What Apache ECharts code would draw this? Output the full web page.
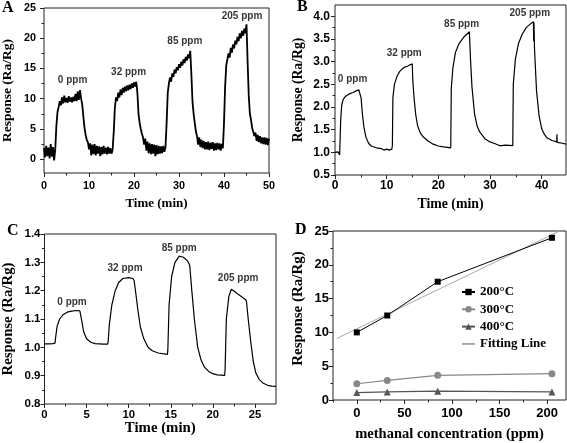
<!DOCTYPE html>
<html>
<head>
<meta charset="utf-8">
<script src="https://cdn.jsdelivr.net/npm/echarts@6/dist/echarts.min.js"></script>
<style>html,body{margin:0;padding:0;background:#fff}#c{width:567px;height:443px}</style>
</head>
<body>
<div id="c"></div>
<script>
// ---------- DATA ----------
const traceA = [
[0,1.8],[0.25,0.3],[0.5,2.2],[0.75,0.5],[1,1.9],[1.25,0.1],[1.5,2.5],[1.75,0.4],[2,2.0],[2.25,-0.2],[2.5,1.6],[2.75,5.5],
[3,7.8],[3.25,8.6],[3.5,9.6],[3.75,8.9],[4,10.2],[4.25,9.2],[4.5,10.5],[4.75,9.4],[5,10.1],[5.25,9.3],[5.5,10.4],[5.75,9.5],
[6,10.2],[6.25,9.4],[6.5,10.3],[6.75,9.6],[7,10.8],[7.25,9.6],[7.5,11.2],[7.75,9.8],[8,11.4],[8.25,10.0],[8.5,9.0],[8.75,7.0],
[9,5.2],[9.25,4.0],[9.5,3.2],[9.75,2.8],[10,1.6],[10.25,2.6],[10.5,0.6],[10.75,2.4],[11,0.8],[11.25,2.5],[11.5,0.6],[11.75,2.2],
[12,0.9],[12.25,2.1],[12.5,0.5],[12.75,2.0],[13,0.8],[13.25,2.2],[13.5,0.9],[13.75,1.9],[14,0.8],[14.25,2.0],[14.5,0.9],[14.75,1.8],
[15,0.9],[15.25,1.6],[15.5,4.5],[15.75,8.5],[16,10.2],[16.25,9.6],[16.5,11.0],[16.75,10.2],[17,11.5],[17.25,10.6],[17.5,11.8],[17.75,11.0],
[18,12.0],[18.25,11.2],[18.5,12.2],[18.75,11.4],[19,12.3],[19.25,11.6],[19.5,12.5],[19.75,11.8],[20,12.7],[20.25,12.0],[20.5,12.8],[20.75,11.0],
[21,7.5],[21.25,6.0],[21.5,5.0],[21.75,4.2],[22,3.6],[22.25,2.4],[22.5,3.4],[22.75,1.4],[23,2.9],[23.25,1.0],[23.5,2.6],[23.75,0.8],
[24,2.5],[24.25,0.9],[24.5,2.4],[24.75,0.5],[25,2.3],[25.25,0.8],[25.5,2.2],[25.75,0.9],[26,2.1],[26.25,1.0],[26.5,2.2],[26.75,1.2],
[27,2.0],[27.25,6.0],[27.5,11.0],[27.75,12.5],[28,13.5],[28.25,12.8],[28.5,14.2],[28.75,13.6],[29,14.8],[29.25,14.2],[29.5,15.2],[29.75,14.7],
[30,15.7],[30.25,15.1],[30.5,16.1],[30.75,15.5],[31,16.5],[31.25,15.9],[31.5,16.9],[31.75,16.3],[32,17.3],[32.25,16.7],[32.5,17.9],[32.75,14.0],
[33,9.5],[33.25,7.5],[33.5,6.0],[33.75,4.6],[34,3.8],[34.25,2.4],[34.5,3.6],[34.75,2.0],[35,3.2],[35.25,1.8],[35.5,3.0],[35.75,1.6],
[36,2.8],[36.25,1.6],[36.5,2.9],[36.75,1.5],[37,2.7],[37.25,1.7],[37.5,2.8],[37.75,1.4],[38,2.6],[38.25,1.5],[38.5,2.7],[38.75,1.6],
[39,2.6],[39.25,1.4],[39.5,2.5],[39.75,1.8],[40,6.0],[40.25,12.0],[40.5,15.5],[40.75,16.5],[41,17.5],[41.25,16.8],[41.5,18.4],[41.75,17.6],
[42,19.0],[42.25,18.3],[42.5,19.6],[42.75,19.0],[43,20.2],[43.25,19.5],[43.5,20.8],[43.75,20.0],[44,21.2],[44.25,20.4],[44.5,21.6],[44.75,20.8],
[45,22.3],[45.25,16.0],[45.5,10.5],[45.75,7.5],[46,6.5],[46.25,5.2],[46.5,5.0],[46.75,3.8],[47,4.4],[47.25,3.0],[47.5,4.0],[47.75,2.8],
[48,3.8],[48.25,2.6],[48.5,3.6],[48.75,2.5],[49,3.6],[49.25,2.4],[49.5,3.5],[49.75,2.3],[50,3.4]
];
const traceB = [
[0,1.0],[0.3,0.99],[0.6,1.01],[0.9,0.94],[0.97,0.96],[1.1,1.7],[1.3,2.05],[1.6,2.17],[2,2.23],[2.5,2.27],[3,2.3],[3.5,2.32],[4,2.35],[4.3,2.33],[4.6,2.38],[4.95,2.4],
[5.05,2.2],[5.3,1.85],[5.6,1.55],[6,1.33],[6.5,1.2],[7,1.14],[8,1.1],[9,1.08],[9.5,1.05],[10,1.07],[10.5,1.05],[11,1.07],[11.1,1.15],
[11.2,2.2],[11.5,2.5],[12,2.68],[12.5,2.78],[13,2.84],[13.5,2.88],[14,2.9],[14.5,2.93],[14.95,2.95],
[15.05,2.6],[15.3,2.2],[15.6,1.85],[16,1.58],[16.5,1.43],[17,1.35],[18,1.25],[19,1.18],[20,1.14],[21,1.12],[22.4,1.1],
[22.5,2.4],[22.8,2.85],[23.3,3.2],[24,3.4],[25,3.55],[26,3.66],[26.1,3.68],
[26.2,3.1],[26.5,2.45],[27,1.85],[27.5,1.58],[28,1.45],[29,1.3],[30,1.23],[31,1.19],[31.8,1.15],[32,1.19],[32.2,1.15],[33,1.16],[34.4,1.15],
[34.5,2.5],[34.9,3.05],[35.5,3.4],[36.2,3.6],[37,3.75],[38,3.85],[38.4,3.88],[38.45,3.45],[38.5,3.87],
[38.6,3.3],[39,2.35],[39.5,1.8],[40,1.52],[40.5,1.4],[41,1.32],[42,1.26],[42.9,1.23],[42.95,1.4],[43,1.22],[44,1.2],[44.7,1.18]
];
const traceC = [
[0,1.012],[0.5,1.012],[1.0,1.013],[1.25,1.015],[1.3,1.03],[1.5,1.075],[1.8,1.1],[2.2,1.115],[2.7,1.124],[3.2,1.128],[3.8,1.13],[4.2,1.129],[4.3,1.125],
[4.45,1.09],[4.65,1.055],[5.0,1.03],[5.5,1.018],[6,1.013],[7,1.011],[7.5,1.011],[7.56,1.02],
[7.7,1.08],[8,1.15],[8.4,1.2],[8.8,1.228],[9.3,1.243],[10,1.246],[10.5,1.243],[10.65,1.235],
[10.85,1.19],[11.1,1.13],[11.4,1.07],[11.8,1.03],[12.3,1.0],[12.8,0.988],[13.5,0.98],[14.6,0.975],[14.65,0.99],
[14.8,1.15],[15.1,1.25],[15.5,1.3],[16,1.322],[16.5,1.318],[17.0,1.305],[17.2,1.3],[17.22,1.31],[17.25,1.29],
[17.5,1.2],[17.8,1.1],[18.2,1.0],[18.6,0.955],[19,0.93],[19.5,0.915],[20,0.907],[20.5,0.903],[21.4,0.901],[21.45,0.92],
[21.6,1.1],[21.9,1.18],[22.2,1.205],[22.6,1.197],[23.0,1.187],[23.5,1.177],[23.9,1.168],[24.0,1.16],
[24.2,1.1],[24.5,1.02],[24.8,0.95],[25.1,0.91],[25.5,0.887],[26,0.873],[26.5,0.866],[27,0.863],[27.5,0.862]
];
const concD = [0, 32, 85, 205];
const resp200 = [10.0, 12.5, 17.5, 24.0];
const resp300 = [2.4, 2.9, 3.65, 3.9];
const resp400 = [1.1, 1.2, 1.3, 1.2];
const fitX = [-21, 213];
const fitY = [9.1, 25.0];

const labelsA = [[6.35,13.1,'0 ppm'],[18.8,14.45,'32 ppm'],[31.3,19.5,'85 ppm'],[44.0,23.7,'205 ppm']];
const labelsB = [[3.4,2.61,'0 ppm'],[13.4,3.19,'32 ppm'],[24.5,3.82,'85 ppm'],[37.7,4.06,'205 ppm']];
const labelsC = [[3.27,1.159,'0 ppm'],[9.57,1.279,'32 ppm'],[16.0,1.35,'85 ppm'],[23.0,1.244,'205 ppm']];

// tick values
const aXTicks = [0,10,20,30,40,50], aXMinor = [5,15,25,35,45];
const aYTicks = [0,5,10,15,20,25], aYMinor = [2.5,7.5,12.5,17.5,22.5];
const bXTicks = [0,10,20,30,40], bXMinor = [5,15,25,35];
const bYTicks = [0.5,1.0,1.5,2.0,2.5,3.0,3.5,4.0], bYMinor = [0.75,1.25,1.75,2.25,2.75,3.25,3.75];
const cXTicks = [0,5,10,15,20,25], cXMinor = [2.5,7.5,12.5,17.5,22.5];
const cYTicks = [0.8,0.9,1.0,1.1,1.2,1.3,1.4], cYMinor = [0.85,0.95,1.05,1.15,1.25,1.35];
const dXTicks = [0,50,100,150,200], dXMinor = [-25,25,75,125,175];
const dYTicks = [0,5,10,15,20,25], dYMinor = [2.5,7.5,12.5,17.5,22.5];

// ---------- CHART ----------
const SERIF = '"Liberation Serif", "Times New Roman", serif';
const SANS = '"Liberation Sans", Arial, sans-serif';

const grids = [
  {left:43, top:8, width:226, height:165},
  {left:335, top:5, width:231, height:170},
  {left:43, top:234, width:233, height:170},
  {left:333, top:231, width:233, height:171}
].map(g => Object.assign({show:true, borderColor:'#222', borderWidth:1, backgroundColor:'transparent'}, g));

const xAxes = [], yAxes = [];
function addAxes(gi, xc, yc) {
  const common = {type:'value', gridIndex:gi, splitLine:{show:false}, axisLine:{show:false, onZero:false}};
  xAxes.push(Object.assign({}, common, {
    position:'bottom', min:xc.min, max:xc.max,
    name:xc.name, nameLocation:'middle', nameGap:xc.nameGap,
    nameTextStyle:{fontFamily:SERIF, fontWeight:'bold', fontSize:xc.nameSize, color:'#000'},
    axisTick:{show:true, customValues:xc.ticks, length:4, lineStyle:{color:'#222'}},
    axisLabel:{show:true, customValues:xc.ticks, margin:xc.margin, fontFamily:SANS, fontWeight:'bold', fontSize:xc.labelSize, color:'#000',
      formatter: xc.fmt || (v => String(v))}
  }));
  xAxes.push(Object.assign({}, common, {
    position:'bottom', min:xc.min, max:xc.max,
    axisTick:{show:true, customValues:xc.minor, length:2.5, lineStyle:{color:'#222'}},
    axisLabel:{show:false}
  }));
  yAxes.push(Object.assign({}, common, {
    position:'left', min:yc.min, max:yc.max,
    name:yc.name, nameLocation:'middle', nameGap:yc.nameGap,
    nameTextStyle:{fontFamily:SERIF, fontWeight:'bold', fontSize:yc.nameSize, color:'#000', padding:yc.namePad || 0},
    axisTick:{show:true, customValues:yc.ticks, length:4, lineStyle:{color:'#222'}},
    axisLabel:{show:true, customValues:yc.ticks, margin:yc.margin, fontFamily:SANS, fontWeight:'bold', fontSize:yc.labelSize, color:'#000',
      formatter: yc.fmt || (v => String(v))}
  }));
  yAxes.push(Object.assign({}, common, {
    position:'left', min:yc.min, max:yc.max,
    axisTick:{show:true, customValues:yc.minor, length:2.5, lineStyle:{color:'#222'}},
    axisLabel:{show:false}
  }));
}
const f1 = v => v.toFixed(1);
addAxes(0, {min:0,max:50,ticks:aXTicks,minor:aXMinor,name:'Time (min)',nameGap:24,nameSize:13,labelSize:10.8,margin:8},
           {min:-2.3,max:25,ticks:aYTicks,minor:aYMinor,name:'Response (Ra/Rg)',nameGap:29,nameSize:13.5,labelSize:10.8,margin:8});
addAxes(1, {min:0,max:44.7,ticks:bXTicks,minor:bXMinor,name:'Time (min)',nameGap:22,nameSize:13.8,labelSize:12,margin:5},
           {min:0.5,max:4.25,ticks:bYTicks,minor:bYMinor,name:'Response (Ra/Rg)',nameGap:29.5,nameSize:13.7,labelSize:12,margin:5,fmt:f1});
addAxes(2, {min:0,max:27.5,ticks:cXTicks,minor:cXMinor,name:'Time (min)',nameGap:14.5,nameSize:14.8,labelSize:11.3,margin:5},
           {min:0.8,max:1.4,ticks:cYTicks,minor:cYMinor,name:'Response (Ra/Rg)',nameGap:28.5,nameSize:14.8,labelSize:11.5,margin:4,fmt:f1});
addAxes(3, {min:-25,max:219.8,ticks:dXTicks,minor:dXMinor,name:'methanal concentration (ppm)',nameGap:27,nameSize:14.5,labelSize:13,margin:7},
           {min:0,max:25,ticks:dYTicks,minor:dYMinor,name:'Response (Ra/Rg)',nameGap:27.5,nameSize:15,labelSize:13,margin:4,namePad:[0,0,0,14]});

function traceSeries(gi, data, w) {
  return {type:'line', xAxisIndex:gi*2, yAxisIndex:gi*2, data:data, symbol:'none',
    lineStyle:{color:'#000', width:w}, silent:true, z:3};
}
function labelSeries(gi, arr) {
  return {type:'scatter', xAxisIndex:gi*2, yAxisIndex:gi*2, symbol:'circle', symbolSize:1,
    itemStyle:{color:'rgba(0,0,0,0)'}, silent:true, z:5,
    data: arr.map(d => ({value:[d[0], d[1]], name:d[2]})),
    label:{show:true, position:'inside', formatter:p => p.name, fontFamily:SANS, fontWeight:'bold', fontSize:10, color:'#000'}};
}
const zip = (xs, ys) => xs.map((x, i) => [x, ys[i]]);

const option = {
  backgroundColor:'#fff',
  animation:false,
  grid: grids,
  xAxis: xAxes,
  yAxis: yAxes,
  legend: {
    left:461, top:285, padding:0, orient:'vertical', itemWidth:13, itemHeight:8, itemGap:3.3,
    textStyle:{fontFamily:SERIF, fontWeight:'bold', fontSize:13, color:'#000', lineHeight:14},
    data:['200°C','300°C','400°C',{name:'Fitting Line', itemStyle:{opacity:0}}]
  },
  graphic: [
    {type:'text', left:2, top:0, style:{text:'A', font:'bold 16px "Liberation Serif"', fill:'#000'}},
    {type:'text', left:297, top:-1, style:{text:'B', font:'bold 16px "Liberation Serif"', fill:'#000'}},
    {type:'text', left:7, top:223, style:{text:'C', font:'bold 16px "Liberation Serif"', fill:'#000'}},
    {type:'text', left:295, top:222, style:{text:'D', font:'bold 16px "Liberation Serif"', fill:'#000'}}
  ],
  series: [
    traceSeries(0, traceA, 1.8),
    traceSeries(1, traceB, 1.2),
    traceSeries(2, traceC, 1.2),
    labelSeries(0, labelsA),
    labelSeries(1, labelsB),
    labelSeries(2, labelsC),
    {name:'Fitting Line', type:'line', xAxisIndex:6, yAxisIndex:6, data:zip(fitX, fitY), symbol:'none',
      lineStyle:{color:'#aaa', width:1}, itemStyle:{color:'#aaa'}, z:2},
    {name:'200°C', type:'line', xAxisIndex:6, yAxisIndex:6, data:zip(concD, resp200), symbol:'rect', symbolSize:6,
      lineStyle:{color:'#000', width:1}, itemStyle:{color:'#000'}, z:4},
    {name:'300°C', type:'line', xAxisIndex:6, yAxisIndex:6, data:zip(concD, resp300), symbol:'circle', symbolSize:7,
      lineStyle:{color:'#888', width:1.2}, itemStyle:{color:'#888'}, z:4},
    {name:'400°C', type:'line', xAxisIndex:6, yAxisIndex:6, data:zip(concD, resp400), symbol:'triangle', symbolSize:7,
      lineStyle:{color:'#555', width:1.2}, itemStyle:{color:'#555'}, z:4}
  ]
};
const chart = echarts.init(document.getElementById('c'), null, {renderer:'canvas'});
chart.setOption(option);
</script>
</body>
</html>
